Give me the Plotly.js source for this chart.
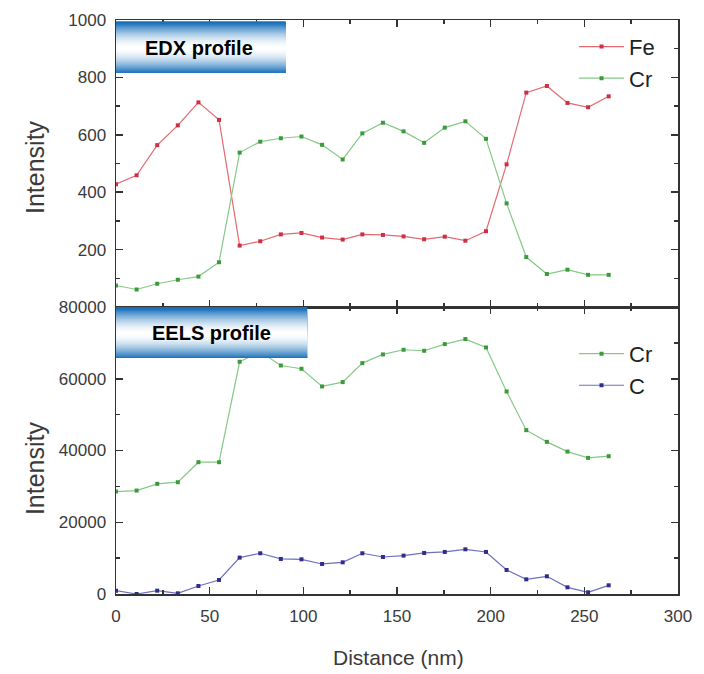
<!DOCTYPE html>
<html>
<head>
<meta charset="utf-8">
<script src="https://cdn.plot.ly/plotly-3.0.1.min.js"></script>
<style>html,body{margin:0;padding:0;background:#fff;}#chart{width:704px;height:674px;}</style>
</head>
<body>
<div id="chart"></div>
<script>
// Distance (nm) of each measurement point
const distance = [0, 11, 22, 33, 44, 55, 66, 77, 88, 99, 110, 121, 131.5, 142.5, 153.5, 164.5, 175.5, 186.5, 197.5, 208.5, 219, 230, 241, 252, 263];
// EDX profile
const edxFe = [428, 459, 564, 633, 713, 652, 214, 229, 253, 258, 242, 235, 253, 251, 246, 236, 245, 231, 264, 497, 747, 770, 711, 696, 734];
const edxCr = [75, 61, 81, 95, 106, 156, 538, 576, 588, 594, 565, 514, 605, 642, 612, 572, 625, 647, 586, 361, 174, 115, 130, 112, 112];
// EELS profile
const eelsCr = [28550, 28830, 30700, 31160, 36740, 36740, 64730, 67500, 63700, 62780, 57850, 59060, 64360, 66780, 68080, 67800, 69660, 71060, 68720, 56450, 45670, 42410, 39700, 37940, 38410];
const eelsC = [930, 0, 930, 190, 2230, 3910, 10140, 11350, 9770, 9670, 8370, 8830, 11350, 10320, 10700, 11440, 11720, 12460, 11720, 6700, 4090, 4930, 1860, 470, 2420];

const edxTicks = [200, 400, 600, 800, 1000];
const eelsTicks = [0, 20000, 40000, 60000, 80000];
const xTicks = [0, 50, 100, 150, 200, 250, 300];

const REG = '"Liberation Sans", Arial, sans-serif';
const AX = '#333333';
const TXT = '#3a3a3a';

function tr(x, y, name, lineC, markC, xa, ya, leg) {
  return {x: x, y: y, name: name, type: 'scatter', mode: 'lines+markers',
    xaxis: xa, yaxis: ya, legend: leg,
    line: {color: lineC, width: 1.2},
    marker: {color: markC, size: 4, symbol: 'square'}};
}

const data = [
  tr(distance, edxFe, 'Fe', '#e46a72', '#cf2f45', 'x2', 'y2', 'legend'),
  tr(distance, edxCr, 'Cr', '#86c986', '#3c9a3c', 'x2', 'y2', 'legend'),
  tr(distance, eelsCr, 'Cr', '#86c986', '#3c9a3c', 'x', 'y', 'legend2'),
  tr(distance, eelsC, 'C', '#6f6fbf', '#2e2e8c', 'x', 'y', 'legend2')
];

const axCommon = {
  showgrid: false, zeroline: false, showline: true, linecolor: AX, linewidth: 1.5,
  ticks: 'inside', ticklen: 7, tickwidth: 1.5, tickcolor: AX, mirror: 'ticks',
  tickformat: 'd',
  tickfont: {family: REG, size: 17, color: TXT}
};

// gradient banners (decorative): each strip runs from its top down to the banner bottom,
// later strips drawn over earlier ones, so there are no seams
const shapes = [];
function banner(x0, x1, y0, y1) {
  const n = 48;
  for (let i = 0; i < n; i++) {
    const t = (i + 0.5) / n;
    const d = Math.min(1, Math.abs(t - 0.52) / 0.48);
    const k = Math.pow(d, 1.7);
    const r = Math.round(255 + (24 - 255) * k);
    const g = Math.round(255 + (112 - 255) * k);
    const b = Math.round(255 + (186 - 255) * k);
    const ya = y1 - (y1 - y0) * i / n;
    shapes.push({type: 'rect', xref: 'paper', yref: 'paper', x0: x0, x1: x1,
      y0: y0, y1: ya, fillcolor: 'rgb(' + r + ',' + g + ',' + b + ')',
      line: {width: 0}, layer: 'above'});
  }
}
banner(0, 0.302, 0.908, 0.998);
banner(0, 0.34, 0.411, 0.5);

const layout = {
  width: 704, height: 674,
  margin: {l: 116, r: 26, t: 20, b: 80},
  paper_bgcolor: '#ffffff', plot_bgcolor: '#ffffff',
  showlegend: true,
  xaxis: Object.assign({}, axCommon, {domain: [0, 1], range: [0, 300], anchor: 'y',
    tickvals: xTicks, ticklabelstandoff: 6,
    minor: {dtick: 25, ticks: 'inside', ticklen: 4, tickwidth: 1.5, tickcolor: AX}}),
  yaxis: Object.assign({}, axCommon, {domain: [0, 0.5], range: [0, 80000], anchor: 'x',
    tickvals: eelsTicks, ticklabelstandoff: 5,
    minor: {dtick: 10000, ticks: 'inside', ticklen: 4, tickwidth: 1.5, tickcolor: AX}}),
  xaxis2: Object.assign({}, axCommon, {domain: [0, 1], range: [0, 300], anchor: 'y2',
    showticklabels: false, matches: 'x',
    minor: {dtick: 25, ticks: 'inside', ticklen: 4, tickwidth: 1.5, tickcolor: AX}}),
  yaxis2: Object.assign({}, axCommon, {domain: [0.5, 1], range: [0, 1000], anchor: 'x2',
    tickvals: edxTicks, ticklabelstandoff: 5,
    minor: {dtick: 100, ticks: 'inside', ticklen: 4, tickwidth: 1.5, tickcolor: AX}}),
  legend: {x: 0.815, y: 0.99, xanchor: 'left', yanchor: 'top', bgcolor: 'rgba(0,0,0,0)',
    itemwidth: 45, font: {family: REG, size: 22, color: '#222'}, tracegroupgap: 0},
  legend2: {x: 0.815, y: 0.455, xanchor: 'left', yanchor: 'top', bgcolor: 'rgba(0,0,0,0)',
    itemwidth: 45, font: {family: REG, size: 22, color: '#222'}, tracegroupgap: 0},
  shapes: shapes,
  annotations: [
    {text: '<b>EDX profile</b>', xref: 'paper', yref: 'paper', x: 0.147, y: 0.951,
      xanchor: 'center', yanchor: 'middle',
      showarrow: false, font: {family: REG, size: 20, color: '#000'}},
    {text: '<b>EELS profile</b>', xref: 'paper', yref: 'paper', x: 0.17, y: 0.4555,
      xanchor: 'center', yanchor: 'middle',
      showarrow: false, font: {family: REG, size: 20, color: '#000'}},
    {text: 'Intensity', xref: 'paper', yref: 'paper', x: -0.144, y: 0.744, textangle: -90,
      xanchor: 'center', yanchor: 'middle',
      showarrow: false, font: {family: REG, size: 25, color: TXT}},
    {text: 'Intensity', xref: 'paper', yref: 'paper', x: -0.144, y: 0.2195, textangle: -90,
      xanchor: 'center', yanchor: 'middle',
      showarrow: false, font: {family: REG, size: 25, color: TXT}},
    {text: 'Distance (nm)', xref: 'paper', yref: 'paper', x: 0.502, y: -0.111,
      xanchor: 'center', yanchor: 'middle',
      showarrow: false, font: {family: REG, size: 21, color: TXT}}
  ]
};

Plotly.newPlot('chart', data, layout, {displayModeBar: false, staticPlot: true});
</script>
</body>
</html>
